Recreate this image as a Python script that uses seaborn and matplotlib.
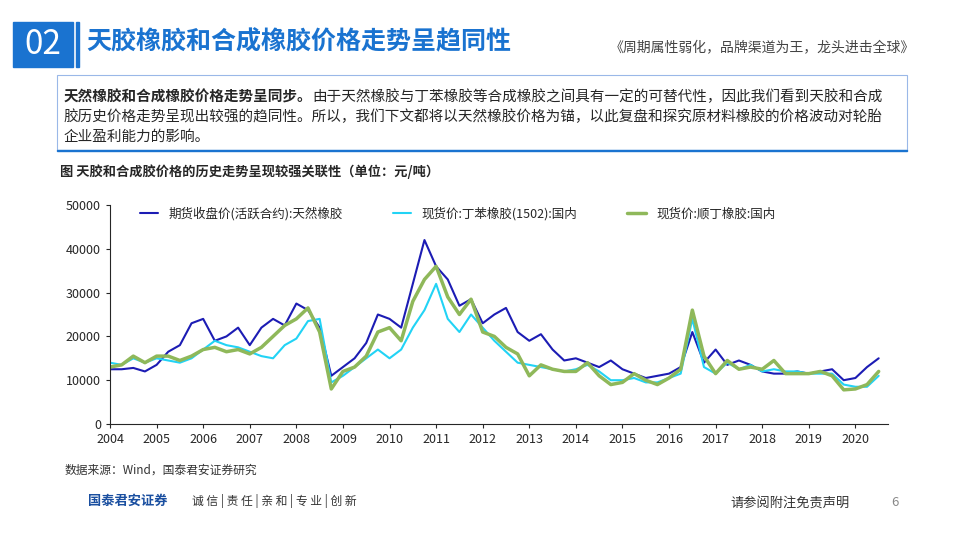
import numpy as np
import pandas as pd
import seaborn as sns
import matplotlib.pyplot as plt
from matplotlib.patches import Rectangle

sns.set_style('ticks')
plt.rcParams['font.family'] = ['Noto Sans CJK SC', 'DejaVu Sans']

years = np.arange(2004, 2020.51, 0.25)
natural = [12500, 12500, 12800, 12000, 13500, 16500, 18000, 23000,
           24000, 19000, 20000, 22000, 18000, 22000, 24000, 22500,
           27500, 26000, 22000, 11000, 13000, 15000, 18500, 25000,
           24000, 22000, 32000, 42000, 36000, 33000, 27000, 28500,
           23000, 25000, 26500, 21000, 19000, 20500, 17000, 14500,
           15000, 14000, 13000, 14500, 12500, 11500, 10500, 11000,
           11500, 13000, 21000, 14000, 17000, 13500, 14500, 13500,
           12000, 11500, 11500, 12000, 11500, 12000, 12500, 10000,
           10500, 13000, 15000]
sbr = [14000, 13500, 15000, 14000, 15000, 14500, 14000, 15000,
       17000, 19000, 18000, 17500, 16500, 15500, 15000, 18000,
       19500, 23500, 24000, 9500, 11000, 13000, 15000, 17000,
       15000, 17000, 22000, 26000, 32000, 24000, 21000, 25000,
       22000, 19000, 16500, 14000, 13500, 13000, 12500, 12000,
       12500, 13500, 12000, 10000, 10000, 10500, 9500, 9500,
       10500, 11500, 24000, 13000, 11500, 14000, 12500, 13500,
       12000, 12500, 12000, 12000, 11500, 11500, 11500, 9000,
       8500, 8500, 11000]
br = [13000, 13500, 15500, 14000, 15500, 15500, 14500, 15500,
      17000, 17500, 16500, 17000, 16000, 17500, 20000, 22500,
      24000, 26500, 21000, 8000, 12000, 13000, 15500, 21000,
      22000, 19000, 28000, 33000, 36000, 29000, 25000, 28500,
      21000, 20000, 17500, 16000, 11000, 13500, 12500, 12000,
      12000, 14000, 11000, 9000, 9500, 11500, 10000, 9000,
      10500, 12500, 26000, 15500, 11500, 14500, 12500, 13000,
      12500, 14500, 11500, 11500, 11500, 12000, 11000, 7800,
      8000, 9000, 12000]
names = ['期货收盘价(活跃合约):天然橡胶', '现货价:丁苯橡胶(1502):国内', '现货价:顺丁橡胶:国内']
colors = ['#1c1cb4', '#22d3f5', '#8fb85a']
widths = [1.5, 1.5, 2.5]

df = pd.DataFrame({'year': years, names[0]: natural, names[1]: sbr, names[2]: br})
long = df.melt('year', var_name='series', value_name='price')

fig = plt.figure(figsize=(9.59, 5.39), dpi=100)
fig.patch.set_facecolor('white')

# header
fig.patches.append(Rectangle((13/959, 1-67/539), 60/959, 45/539, transform=fig.transFigure, color='#1a73d0'))
fig.patches.append(Rectangle((76/959, 1-67/539), 3/959, 45/539, transform=fig.transFigure, color='#1a73d0'))
fig.text(43/959, 1-45/539, '02', color='white', fontsize=24, ha='center', va='center')
fig.text(86/959, 1-42/539, '天胶橡胶和合成橡胶价格走势呈趋同性', color='#1a73d0', fontsize=18, fontweight='bold', va='center')
fig.text(915/959, 1-48/539, '《周期属性弱化，品牌渠道为王，龙头进击全球》', color='#444444', fontsize=10, ha='right', va='center')

# text box
fig.patches.append(Rectangle((57/959, 1-150/539), 850/959, 75/539, transform=fig.transFigure,
                             fill=False, edgecolor='#9ab8e8', lw=0.8))
fig.patches.append(Rectangle((57/959, 1-151/539), 850/959, 1.5/539, transform=fig.transFigure, color='#1a73d0'))
b = fig.text(64/959, 1-97/539, '天然橡胶和合成橡胶价格走势呈同步。', fontsize=10.5, fontweight='bold', va='center')
fig.canvas.draw()
bb = b.get_window_extent().transformed(fig.transFigure.inverted())
fig.text(bb.x1, 1-97/539, '由于天然橡胶与丁苯橡胶等合成橡胶之间具有一定的可替代性，因此我们看到天胶和合成',
         fontsize=10.5, va='center')
fig.text(64/959, 1-117/539, '胶历史价格走势呈现出较强的趋同性。所以，我们下文都将以天然橡胶价格为锚，以此复盘和探究原材料橡胶的价格波动对轮胎',
         fontsize=10.5, va='center')
fig.text(64/959, 1-137/539, '企业盈利能力的影响。', fontsize=10.5, va='center')
fig.text(60/959, 1-172/539, '图 天胶和合成胶价格的历史走势呈现较强关联性（单位：元/吨）', fontsize=9.5, fontweight='bold', va='center')

# chart
ax = fig.add_axes([110/959, 1-424/539, 778/959, 219/539])
sns.lineplot(data=long, x='year', y='price', hue='series', palette=colors, ax=ax, legend=False)
for line, w in zip(ax.lines, widths):
    line.set_linewidth(w)
for n, c, w in zip(names, colors, widths):
    ax.plot([], [], color=c, lw=w, label=n)
ax.legend(ncol=3, loc='upper left', frameon=False, fontsize=9, handlelength=1.5,
          columnspacing=4, borderaxespad=0.1, bbox_to_anchor=(0.03, 1.02))
ax.set_xlim(2004, 2020.7)
ax.set_ylim(0, 50000)
ax.set_xticks(range(2004, 2021))
ax.set_yticks(range(0, 50001, 10000))
ax.set_xlabel('')
ax.set_ylabel('')
ax.tick_params(labelsize=9, length=3)
sns.despine(ax=ax)
ax.patch.set_alpha(0)

fig.text(65/959, 1-470/539, '数据来源：Wind，国泰君安证券研究', fontsize=8.5, va='center', color='#333333')
fig.text(88/959, 1-501/539, '国泰君安证券', fontsize=9.5, color='#1a4fa0', fontweight='bold', va='center')
fig.text(192/959, 1-501/539, '诚 信 | 责 任 | 亲 和 | 专 业 | 创 新', fontsize=8.5, color='#333333', va='center')
fig.text(790/959, 1-503/539, '请参阅附注免责声明', fontsize=9.5, color='#333333', ha='center', va='center')
fig.text(895/959, 1-503/539, '6', fontsize=9.5, color='#888888', ha='center', va='center')

fig.savefig('out.png', dpi=100)
